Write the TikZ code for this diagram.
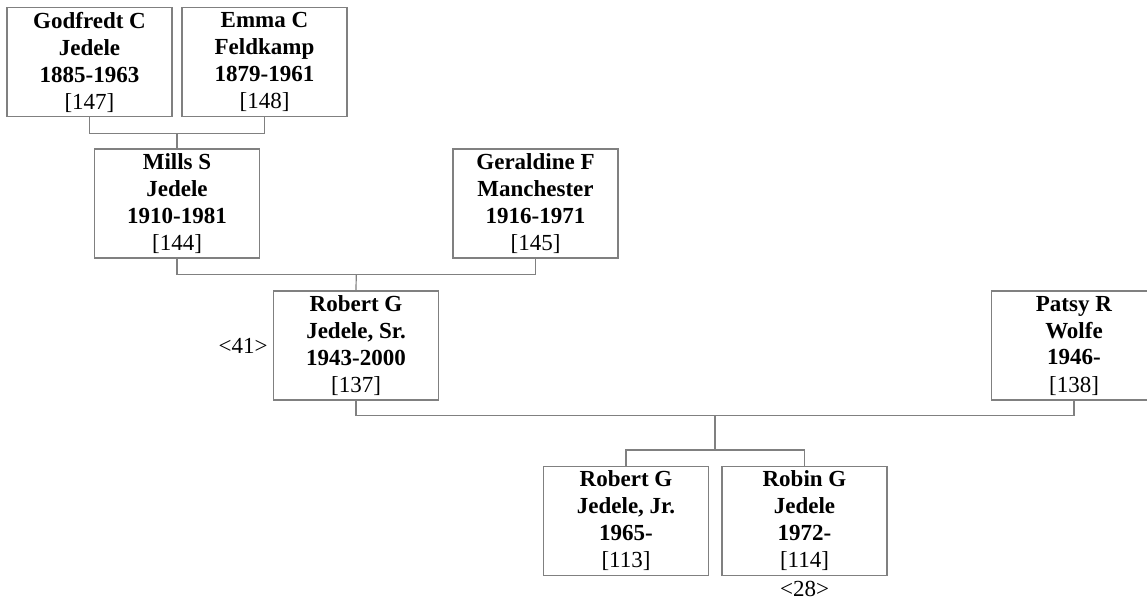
\documentclass[tikz,border=0pt]{standalone}
\usepackage{fontspec}
\setmainfont{Liberation Serif}
\usetikzlibrary{calc}
\definecolor{linegray}{RGB}{128,128,128}
\begin{document}
\begin{tikzpicture}[x=0.5pt,y=-0.5pt,
  person/.style={draw=linegray, line width=0.6pt, minimum width=82.5pt, minimum height=54.5pt,
    inner sep=0pt, align=center, font=\fontsize{11.5}{13.5}\selectfont},
  conn/.style={draw=linegray, line width=0.6pt},
  note/.style={inner sep=0pt, font=\fontsize{11.5}{13.5}\selectfont}]
\useasboundingbox (0,0) rectangle (1147,601);
% generation 1
\node[person] (G) at (89.5,62) {\textbf{Godfredt C}\\\textbf{Jedele}\\\textbf{1885-1963}\\{[147]}};
\node[person] (E) at (264.5,62) {\textbf{Emma C}\\\textbf{Feldkamp}\\\textbf{1879-1961}\\{[148]}};
% generation 2
\node[person] (M) at (177,203.5) {\textbf{Mills S}\\\textbf{Jedele}\\\textbf{1910-1981}\\{[144]}};
\node[person] (Ge) at (535.5,203.5) {\textbf{Geraldine F}\\\textbf{Manchester}\\\textbf{1916-1971}\\{[145]}};
% generation 3
\node[person] (R) at (356,345.5) {\textbf{Robert G}\\\textbf{Jedele, Sr.}\\\textbf{1943-2000}\\{[137]}};
\node[person] (P) at (1074,345.5) {\textbf{Patsy R}\\\textbf{Wolfe}\\\textbf{1946-}\\{[138]}};
% generation 4
\node[person] (RJ) at (626,521) {\textbf{Robert G}\\\textbf{Jedele, Jr.}\\\textbf{1965-}\\{[113]}};
\node[person] (Ro) at (804.5,521) {\textbf{Robin G}\\\textbf{Jedele}\\\textbf{1972-}\\{[114]}};
% notes
\node[note, anchor=east] (n41) at ([xshift=-2.5pt]R.west) {\textless41\textgreater};
\node[note, anchor=base] (n28) at ($(Ro.south)+(0,20)$) {\textless28\textgreater};
% connectors
\coordinate (j1) at ($(G.south)!0.5!(E.south)+(0,16)$);
\draw[conn] (G.south) -- ++(0,16) -| (E.south);
\draw[conn] (j1) -- (M.north);
\coordinate (j2) at ($(M.south)!0.5!(Ge.south)+(0,16)$);
\draw[conn] (M.south) -- ++(0,16) -| (Ge.south);
\draw[conn] (j2) -- (R.north);
\coordinate (j3) at ($(R.south)!0.5!(P.south)+(0,15)$);
\coordinate (j4) at ($(RJ.north)!0.5!(Ro.north)+(0,-16)$);
\draw[conn] (R.south) -- ++(0,15) -| (P.south);
\draw[conn] (j3) -- (j3 |- j4);
\draw[conn] (RJ.north) -- ++(0,-16) -| (Ro.north);
\end{tikzpicture}
\end{document}
